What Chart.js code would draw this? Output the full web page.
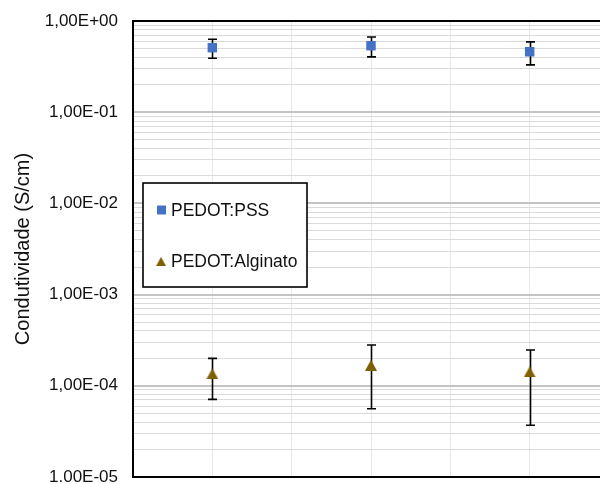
<!DOCTYPE html>
<html>
<head>
<meta charset="utf-8">
<script src="https://cdn.jsdelivr.net/npm/chart.js@4.4.1/dist/chart.umd.min.js"></script>
<style>
  html, body { margin: 0; padding: 0; background: #fff; overflow: hidden; }
  #wrap { width: 616px; height: 484px; position: relative; }
</style>
</head>
<body>
<div id="wrap"><canvas id="canvas"></canvas></div>
<script>
const xPositions = [1, 3, 5];
const pssValues = [0.51, 0.536, 0.46];
const pssErrors = [0.12, 0.132, 0.13];
const alginatoValues = [1.355e-4, 1.68e-4, 1.42e-4];
const alginatoErrors = [6.45e-5, 1.12e-4, 1.05e-4];
const decades = [-5, -4, -3, -2, -1, 0];
const tickLabels = ["1.00E-05", "1,00E-04", "1,00E-03", "1,00E-02", "1,00E-01", "1,00E+00"];

const PSS_COLOR = "#4472C4";
const ALG_COLOR = "#7F6000";
const FONT = "'Liberation Sans', Arial, sans-serif";

Chart.defaults.font.family = FONT;
Chart.defaults.color = "#111";

const toPoints = (values) => values.map((v, i) => ({ x: xPositions[i], y: v }));

// triangle marker centred on its box (like excel does)
const triangle = document.createElement("canvas");
triangle.width = 12;
triangle.height = 11;
(() => {
  const t = triangle.getContext("2d");
  t.fillStyle = ALG_COLOR;
  t.beginPath();
  t.moveTo(6, 0);
  t.lineTo(12, 11);
  t.lineTo(0, 11);
  t.closePath();
  t.fill();
})();

// vertical error bars, drawn under the markers
const errorBars = {
  id: "errorBars",
  beforeDatasetsDraw(chart) {
    const { ctx, scales } = chart;
    ctx.save();
    ctx.strokeStyle = "#000";
    ctx.lineWidth = 1.6;
    chart.data.datasets.forEach((ds) => {
      ds.data.forEach((p, i) => {
        const err = ds.errors[i];
        const px = Math.round(scales.x.getPixelForValue(p.x)) + 0.5;
        const top = scales.y.getPixelForValue(p.y + err);
        const bottom = scales.y.getPixelForValue(p.y - err);
        ctx.beginPath();
        ctx.moveTo(px, top);
        ctx.lineTo(px, bottom);
        ctx.moveTo(px - 4.5, top);
        ctx.lineTo(px + 4.5, top);
        ctx.moveTo(px - 4.5, bottom);
        ctx.lineTo(px + 4.5, bottom);
        ctx.stroke();
      });
    });
    ctx.restore();
  },
};

// boxed legend sitting inside the plot area
const boxLegend = {
  id: "boxLegend",
  afterDraw(chart) {
    const { ctx } = chart;
    const x = 143, y = 183, w = 164, h = 104;
    ctx.save();
    ctx.fillStyle = "#fff";
    ctx.fillRect(x, y, w, h);
    ctx.strokeStyle = "#000";
    ctx.lineWidth = 1.6;
    ctx.strokeRect(x, y, w, h);
    ctx.font = "17.5px " + FONT;
    ctx.textBaseline = "middle";
    const rows = [210, 261];
    chart.data.datasets.forEach((ds, i) => {
      const cy = rows[i];
      if (ds.pointStyle === "rect") {
        ctx.fillStyle = ds.backgroundColor;
        ctx.fillRect(157, cy - 4.5, 9, 9);
      } else {
        ctx.drawImage(triangle, 156, cy - 4, 10, 9);
      }
      ctx.fillStyle = "#111";
      ctx.fillText(ds.label, 171, cy + 1);
    });
    ctx.restore();
  },
};

new Chart(document.getElementById("canvas"), {
  type: "scatter",
  data: {
    datasets: [
      {
        label: "PEDOT:PSS",
        data: toPoints(pssValues),
        errors: pssErrors,
        pointStyle: "rect",
        pointRadius: 6.7,
        pointBorderWidth: 0,
        backgroundColor: PSS_COLOR,
        borderColor: PSS_COLOR,
      },
      {
        label: "PEDOT:Alginato",
        data: toPoints(alginatoValues),
        errors: alginatoErrors,
        pointStyle: triangle,
        pointRadius: 7,
        pointBorderWidth: 0,
        backgroundColor: ALG_COLOR,
        borderColor: ALG_COLOR,
      },
    ],
  },
  options: {
    responsive: true,
    maintainAspectRatio: false,
    animation: false,
    layout: { padding: { left: 0, top: 21, right: 3, bottom: 6 } },
    plugins: {
      legend: { display: false },
      tooltip: { enabled: false },
    },
    scales: {
      x: {
        type: "linear",
        min: 0,
        max: 6,
        ticks: { display: false, stepSize: 1 },
        grid: { color: "#e8e8e8", lineWidth: 1, drawTicks: false },
        border: { color: "#000", width: 2 },
      },
      x2: {
        type: "linear",
        position: "top",
        min: 0,
        max: 6,
        ticks: { display: false },
        grid: { display: false, drawTicks: false },
        border: { color: "#000", width: 2 },
      },
      y: {
        type: "logarithmic",
        min: 1e-5,
        max: 1,
        afterBuildTicks: (scale) => {
          const ticks = [];
          decades.forEach((e) => {
            const last = e === 0 ? 1 : 9;
            for (let s = 1; s <= last; s++) {
              ticks.push({ value: s * Math.pow(10, e), major: s === 1, exp: e });
            }
          });
          scale.ticks = ticks;
        },
        afterFit: (scale) => {
          scale.width = 133;
          scale.paddingTop = 0;
          scale.paddingBottom = 0;
        },
        ticks: {
          autoSkip: false,
          padding: 15,
          font: { size: 17 },
          color: "#111",
          callback: function (value, index, ticks) {
            const t = ticks[index];
            return t.major ? tickLabels[decades.indexOf(t.exp)] : "";
          },
        },
        grid: {
          drawTicks: false,
          color: (c) => (c.tick && c.tick.major ? "#c4c4c4" : "#dadada"),
          lineWidth: (c) => (c.tick && c.tick.major ? 2 : 1),
        },
        border: { color: "#000", width: 2 },
        title: {
          display: true,
          text: "Condutividade (S/cm)",
          font: { size: 20 },
          color: "#111",
          padding: { top: 11, bottom: 0 },
        },
      },
    },
  },
  plugins: [errorBars, boxLegend],
});
</script>
</body>
</html>
